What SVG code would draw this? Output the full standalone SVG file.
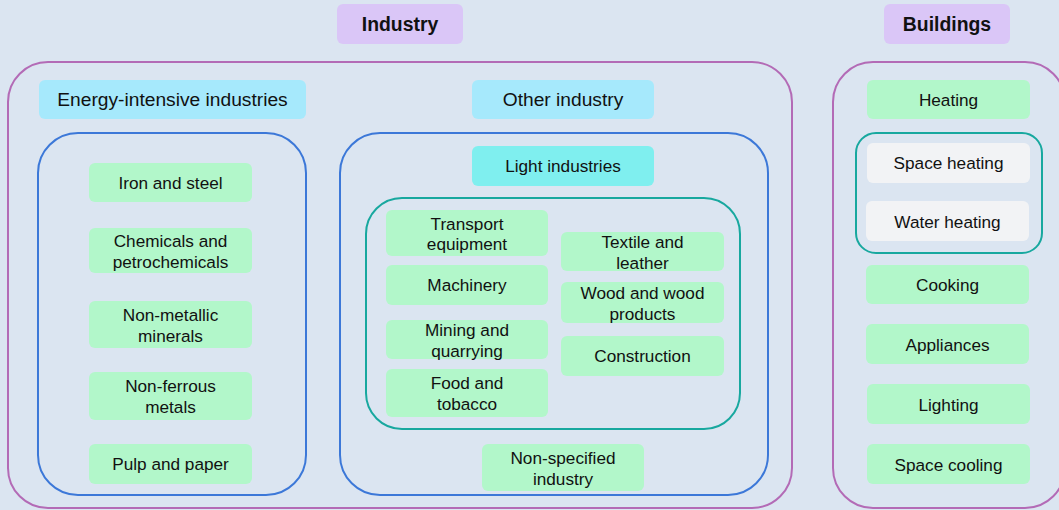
<svg xmlns="http://www.w3.org/2000/svg" width="1059" height="510" viewBox="0 0 1059 510">
<style>
text{font-family:"Liberation Sans",Arial,sans-serif;fill:#111;text-anchor:middle}
.t{font-size:17.2px}
.h{font-size:19.2px}
.b{font-size:19.4px;font-weight:bold}
.g{fill:#b2f7ca}
.w{fill:#f2f3f5}
.c{fill:#a6e9fc}
.l{fill:#7fefef}
.p{fill:#dac6f7}
.op{fill:none;stroke:#b36bb6;stroke-width:2}
.ob{fill:none;stroke:#3c78d8;stroke-width:2}
.ot{fill:none;stroke:#18a89f;stroke-width:2}
</style>
<rect width="1059" height="510" fill="#dbe5f1"/>
<g id="containers">
<rect id="industry-box" class="op" x="8" y="62" width="784" height="446" rx="40"/>
<rect id="buildings-box" class="op" x="833" y="62" width="232" height="446" rx="40"/>
<rect id="energy-box" class="ob" x="38" y="133" width="268" height="362" rx="40"/>
<rect id="other-box" class="ob" x="340" y="133" width="428" height="362" rx="40"/>
<rect id="light-box" class="ot" x="366" y="198" width="374" height="231" rx="36"/>
<rect id="heating-box" class="ot" x="856" y="133" width="186" height="120" rx="20"/>
</g>
<g id="industry"><rect class="p" x="337" y="4" width="126" height="40" rx="6"/><text class="b" x="400" y="31">Industry</text></g>
<g id="buildings"><rect class="p" x="884" y="4" width="126" height="40" rx="6"/><text class="b" x="947" y="31">Buildings</text></g>
<g id="energy-intensive"><rect class="c" x="39" y="80" width="267" height="39" rx="6"/><text class="h" x="172.5" y="106">Energy-intensive industries</text></g>
<g id="other-industry"><rect class="c" x="472" y="80" width="182" height="39" rx="6"/><text class="h" x="563" y="106">Other industry</text></g>
<g id="light-industries"><rect class="l" x="472" y="146" width="182" height="40" rx="6"/><text class="t" x="563" y="172">Light industries</text></g>
<g id="iron"><rect class="g" x="89" y="163" width="163" height="39" rx="6"/><text class="t" x="170.5" y="189">Iron and steel</text></g>
<g id="chemicals"><rect class="g" x="89" y="228" width="163" height="45" rx="6"/><text class="t" x="170.5" y="247">Chemicals and<tspan x="170.5" dy="21">petrochemicals</tspan></text></g>
<g id="non-metallic"><rect class="g" x="89" y="301" width="163" height="47" rx="6"/><text class="t" x="170.5" y="321">Non-metallic<tspan x="170.5" dy="21">minerals</tspan></text></g>
<g id="non-ferrous"><rect class="g" x="89" y="372" width="163" height="48" rx="6"/><text class="t" x="170.5" y="392">Non-ferrous<tspan x="170.5" dy="21">metals</tspan></text></g>
<g id="pulp"><rect class="g" x="89" y="444" width="163" height="40" rx="6"/><text class="t" x="170.5" y="470">Pulp and paper</text></g>
<g id="transport"><rect class="g" x="386" y="210" width="162" height="46" rx="6"/><text class="t" x="467" y="229.5">Transport<tspan x="467" dy="20.5">equipment</tspan></text></g>
<g id="machinery"><rect class="g" x="386" y="265" width="162" height="40" rx="6"/><text class="t" x="467" y="291">Machinery</text></g>
<g id="mining"><rect class="g" x="386" y="320" width="162" height="39" rx="6"/><text class="t" x="467" y="336">Mining and<tspan x="467" dy="21">quarrying</tspan></text></g>
<g id="food"><rect class="g" x="386" y="369" width="162" height="48" rx="6"/><text class="t" x="467" y="389">Food and<tspan x="467" dy="20.5">tobacco</tspan></text></g>
<g id="textile"><rect class="g" x="561" y="232" width="163" height="39" rx="6"/><text class="t" x="642.5" y="247.5">Textile and<tspan x="642.5" dy="21">leather</tspan></text></g>
<g id="wood"><rect class="g" x="561" y="282" width="163" height="41" rx="6"/><text class="t" x="642.5" y="299">Wood and wood<tspan x="642.5" dy="20.5">products</tspan></text></g>
<g id="construction"><rect class="g" x="561" y="336" width="163" height="40" rx="6"/><text class="t" x="642.5" y="362">Construction</text></g>
<g id="non-specified"><rect class="g" x="482" y="444" width="162" height="47" rx="6"/><text class="t" x="563" y="464">Non-specified<tspan x="563" dy="20.5">industry</tspan></text></g>
<g id="heating"><rect class="g" x="867" y="80" width="163" height="39" rx="6"/><text class="t" x="948.5" y="105.5">Heating</text></g>
<g id="space-heating"><rect class="w" x="867" y="143" width="163" height="40" rx="6"/><text class="t" x="948.5" y="169">Space heating</text></g>
<g id="water-heating"><rect class="w" x="866" y="201" width="163" height="40" rx="6"/><text class="t" x="947.5" y="227.5">Water heating</text></g>
<g id="cooking"><rect class="g" x="866" y="265" width="163" height="39" rx="6"/><text class="t" x="947.5" y="291">Cooking</text></g>
<g id="appliances"><rect class="g" x="866" y="324" width="163" height="40" rx="6"/><text class="t" x="947.5" y="351">Appliances</text></g>
<g id="lighting"><rect class="g" x="867" y="384" width="163" height="40" rx="6"/><text class="t" x="948.5" y="411">Lighting</text></g>
<g id="space-cooling"><rect class="g" x="867" y="444" width="163" height="40" rx="6"/><text class="t" x="948.5" y="471">Space cooling</text></g>
<g id="connectors"/>
</svg>
